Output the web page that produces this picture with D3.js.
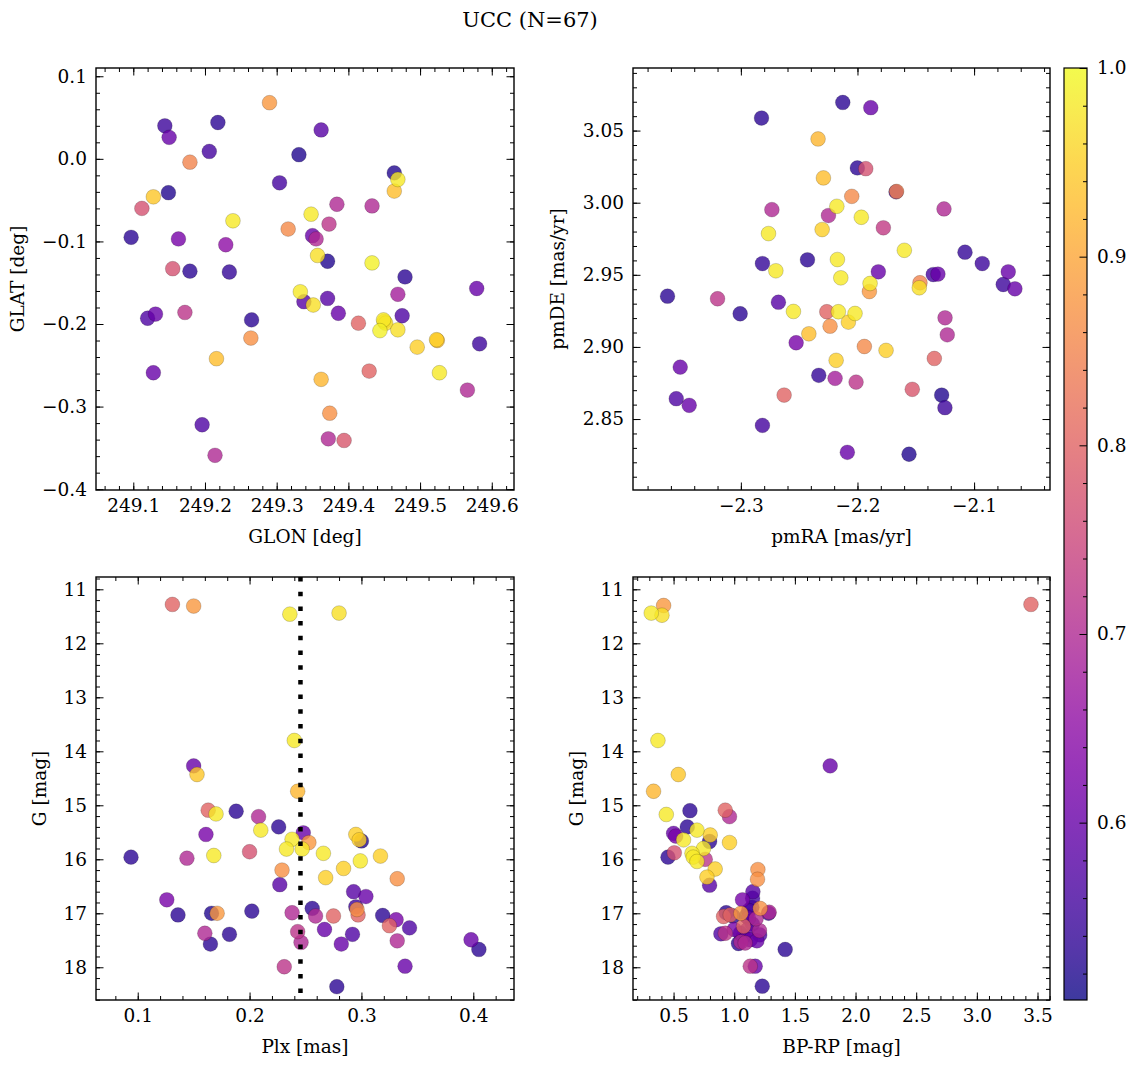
<!DOCTYPE html>
<html><head><meta charset="utf-8">
<script src="https://cdn.jsdelivr.net/npm/d3@7"></script>
<style>
html,body{margin:0;padding:0;background:#fff;}
text{font-family:"DejaVu Serif",serif;fill:#000;}
</style></head>
<body><svg id="c" width="1136" height="1067"></svg>
<script>
// ---------- data: [x, y, membership probability] ----------
const glonGlat = [
[249.290,0.068,0.88],[249.144,0.040,0.55],[249.150,0.026,0.60],[249.218,0.044,0.53],[249.206,0.009,0.56],
[249.179,-0.004,0.85],[249.331,0.005,0.52],[249.304,-0.029,0.56],[249.128,-0.046,0.94],[249.149,-0.041,0.52],
[249.112,-0.060,0.77],[249.239,-0.075,0.98],[249.316,-0.085,0.86],[249.097,-0.095,0.53],[249.163,-0.097,0.62],
[249.229,-0.104,0.65],[249.155,-0.133,0.77],[249.179,-0.136,0.53],[249.234,-0.137,0.54],[249.362,0.035,0.58],
[249.464,-0.017,0.52],[249.469,-0.025,0.98],[249.464,-0.039,0.93],[249.384,-0.055,0.70],[249.433,-0.057,0.70],
[249.348,-0.067,0.98],[249.373,-0.079,0.72],[249.350,-0.093,0.60],[249.355,-0.097,0.70],[249.357,-0.117,0.97],
[249.371,-0.124,0.52],[249.433,-0.126,0.99],[249.479,-0.143,0.53],[249.333,-0.161,0.98],[249.338,-0.173,0.58],
[249.351,-0.177,0.97],[249.120,-0.193,0.57],[249.131,-0.188,0.60],[249.172,-0.186,0.72],[249.265,-0.195,0.53],
[249.264,-0.217,0.87],[249.216,-0.242,0.93],[249.128,-0.259,0.60],[249.196,-0.322,0.57],[249.214,-0.359,0.70],
[249.371,-0.169,0.58],[249.386,-0.187,0.60],[249.414,-0.199,0.80],[249.469,-0.164,0.68],[249.475,-0.190,0.57],
[249.449,-0.195,0.98],[249.452,-0.199,0.97],[249.444,-0.208,0.99],[249.469,-0.207,0.97],[249.496,-0.228,0.95],
[249.523,-0.219,0.95],[249.524,-0.220,0.93],[249.579,-0.157,0.60],[249.583,-0.224,0.55],[249.362,-0.267,0.92],
[249.429,-0.257,0.80],[249.527,-0.259,0.98],[249.566,-0.280,0.70],[249.374,-0.308,0.87],[249.372,-0.339,0.70],
[249.394,-0.341,0.78],[249.450,-0.197,0.96]
];
const pmraPmde = [
[-2.2126,3.0695,0.53],[-2.2823,3.0587,0.53],[-2.2338,3.0442,0.92],[-2.2292,3.0172,0.93],[-2.2734,2.9952,0.70],
[-2.2249,2.9911,0.70],[-2.2177,2.9975,0.98],[-2.2763,2.9786,0.98],[-2.2303,2.9814,0.95],[-2.2815,2.9578,0.54],
[-2.2429,2.9604,0.53],[-2.2700,2.9528,0.98],[-2.2172,2.9606,0.98],[-2.1886,3.0659,0.60],[-2.2001,3.0241,0.53],
[-2.1929,3.0236,0.77],[-2.1669,3.0075,0.55],[-2.1665,3.0078,0.85],[-2.2049,3.0044,0.86],[-2.1967,2.9899,0.98],
[-2.1258,2.9957,0.70],[-2.1778,2.9826,0.73],[-2.1598,2.9670,0.98],[-2.1078,2.9657,0.54],[-2.0930,2.9578,0.55],
[-2.0707,2.9521,0.60],[-2.1821,2.9521,0.60],[-2.1350,2.9502,0.56],[-2.1310,2.9505,0.60],[-2.3629,2.9352,0.53],
[-2.3200,2.9334,0.72],[-2.3006,2.9230,0.53],[-2.2678,2.9310,0.58],[-2.2549,2.9246,0.98],[-2.2263,2.9244,0.80],
[-2.2164,2.9244,0.98],[-2.2235,2.9144,0.87],[-2.2417,2.9091,0.93],[-2.2526,2.9029,0.62],[-2.2183,2.8907,0.95],
[-2.2332,2.8803,0.54],[-2.2192,2.8782,0.68],[-2.3520,2.8860,0.60],[-2.3554,2.8641,0.57],[-2.3443,2.8595,0.60],
[-2.2629,2.8666,0.80],[-2.2815,2.8456,0.56],[-2.2143,2.9479,0.98],[-2.1892,2.9440,0.98],[-2.1898,2.9384,0.88],
[-2.1464,2.9445,0.85],[-2.1470,2.9410,0.97],[-2.0750,2.9433,0.55],[-2.0650,2.9403,0.60],[-2.2021,2.9232,0.98],
[-2.2078,2.9172,0.95],[-2.1249,2.9202,0.70],[-2.1230,2.9084,0.70],[-2.1941,2.9003,0.86],[-2.1755,2.8976,0.95],
[-2.1341,2.8920,0.80],[-2.2012,2.8756,0.72],[-2.1530,2.8706,0.78],[-2.1278,2.8666,0.52],[-2.1250,2.8579,0.55],
[-2.2087,2.8269,0.60],[-2.1558,2.8256,0.52]
];
const plxG = [
[0.131,11.28,0.80],[0.150,11.31,0.88],[0.236,11.46,0.98],[0.280,11.44,0.97],[0.240,13.80,0.98],
[0.150,14.27,0.60],[0.153,14.43,0.94],[0.243,14.74,0.92],[0.163,15.09,0.80],[0.170,15.16,0.98],
[0.188,15.11,0.53],[0.208,15.21,0.70],[0.226,15.40,0.53],[0.210,15.46,0.98],[0.161,15.54,0.62],
[0.238,15.63,0.98],[0.248,15.51,0.60],[0.253,15.69,0.88],[0.233,15.81,0.98],[0.247,15.81,0.98],
[0.295,15.54,0.95],[0.300,15.66,0.52],[0.298,15.64,0.95],[0.266,15.89,0.98],[0.317,15.94,0.95],
[0.094,15.96,0.53],[0.144,15.98,0.70],[0.168,15.93,0.98],[0.200,15.86,0.77],[0.299,16.03,0.98],
[0.284,16.17,0.95],[0.229,16.20,0.87],[0.268,16.34,0.95],[0.332,16.36,0.87],[0.227,16.47,0.58],
[0.293,16.60,0.58],[0.304,16.69,0.60],[0.126,16.75,0.62],[0.295,16.88,0.55],[0.296,16.93,0.87],
[0.297,17.03,0.80],[0.256,16.91,0.53],[0.136,17.03,0.53],[0.166,17.00,0.52],[0.171,17.00,0.88],
[0.202,16.96,0.53],[0.238,16.99,0.70],[0.259,17.05,0.70],[0.275,17.05,0.80],[0.319,17.04,0.53],
[0.331,17.12,0.62],[0.325,17.23,0.80],[0.343,17.27,0.57],[0.267,17.30,0.60],[0.243,17.34,0.72],
[0.160,17.37,0.70],[0.182,17.39,0.53],[0.292,17.39,0.57],[0.165,17.57,0.53],[0.246,17.54,0.70],
[0.282,17.57,0.60],[0.332,17.51,0.70],[0.398,17.49,0.60],[0.405,17.67,0.53],[0.231,17.99,0.72],
[0.339,17.98,0.60],[0.278,18.36,0.53]
];
const bprpG = [
[0.316,11.44,0.98],[0.418,11.30,0.88],[0.404,11.48,0.97],[0.371,13.80,0.98],[0.539,14.43,0.94],
[0.335,14.74,0.92],[1.791,14.27,0.60],[0.635,15.10,0.53],[0.926,15.09,0.80],[0.961,15.21,0.70],
[0.440,15.17,0.98],[0.613,15.40,0.53],[0.500,15.52,0.60],[0.518,15.57,0.62],[0.693,15.46,0.98],
[0.582,15.64,0.98],[0.802,15.55,0.95],[0.797,15.67,0.53],[0.747,15.80,0.98],[0.652,15.89,0.98],
[0.662,15.96,0.98],[0.693,16.04,0.98],[0.761,16.00,0.72],[0.961,15.69,0.95],[0.454,15.96,0.53],
[0.506,15.88,0.77],[0.843,16.18,0.95],[0.775,16.33,0.95],[0.797,16.48,0.58],[1.195,16.19,0.87],
[1.192,16.37,0.87],[1.154,16.60,0.58],[1.151,16.72,0.56],[1.068,16.75,0.62],[1.146,16.89,0.53],
[1.214,16.91,0.87],[1.283,17.00,0.55],[1.288,16.98,0.70],[0.934,16.99,0.53],[0.912,17.06,0.80],
[0.967,17.03,0.80],[1.055,17.00,0.88],[1.118,17.09,0.60],[1.077,17.24,0.80],[1.105,17.31,0.60],
[1.208,17.32,0.70],[0.890,17.38,0.57],[0.926,17.37,0.72],[1.035,17.56,0.53],[1.055,17.53,0.70],
[1.132,17.49,0.60],[1.187,17.51,0.60],[1.077,17.43,0.58],[1.420,17.67,0.53],[1.132,17.98,0.72],
[1.173,17.98,0.60],[1.231,18.35,0.53],[3.446,11.28,0.80],[1.100,17.05,0.53],[1.150,17.20,0.55],
[1.050,17.37,0.53],[1.180,17.10,0.70],[1.000,17.30,0.62],[1.120,16.95,0.57],[0.990,17.05,0.53],
[1.210,17.40,0.57],[1.090,17.55,0.70]
];
const plxLine = 0.2455;
const probRange = [0.506, 1.0];
// tick labels
const glonTicks = [249.1,249.2,249.3,249.4,249.5,249.6];
const glatTicks = [-0.4,-0.3,-0.2,-0.1,0.0,0.1];
const pmraTicks = [-2.3,-2.2,-2.1];
const pmdeTicks = [2.85,2.90,2.95,3.00,3.05];
const plxTicks = [0.1,0.2,0.3,0.4];
const gTicks = [11,12,13,14,15,16,17,18];
const bprpTicks = [0.5,1.0,1.5,2.0,2.5,3.0,3.5];
const cbTicks = [0.6,0.7,0.8,0.9,1.0];
const title = "UCC (N=67)";

// ---------- drawing ----------
const svg = d3.select("#c");
const color = d3.scaleSequential(d3.interpolatePlasma).domain(probRange);
const fmt = d => d3.format(".1f")(d).replace("-", "\u2212");
const fmt2 = d => d3.format(".2f")(d).replace("-", "\u2212");
const fmt0 = d => d3.format("d")(d);
function range(a, b, s){ const o=[]; for(let v=a; v<=b+1e-9; v+=s) o.push(+v.toFixed(6)); return o; }

const FS = 18.5;
function panel(cfg){
  const {L,R,T,B} = cfg;
  const x = d3.scaleLinear().domain(cfg.xd).range([L,R]);
  const y = d3.scaleLinear().domain(cfg.yd).range([B,T]);
  const g = svg.append("g");
  const pts = cfg.data.slice().sort((a,b)=>a[2]-b[2]);
  const clipId = "clip"+cfg.id;
  svg.append("clipPath").attr("id",clipId).append("rect").attr("x",L).attr("y",T).attr("width",R-L).attr("height",B-T);
  const pg = g.append("g").attr("clip-path",`url(#${clipId})`);
  pg.selectAll("circle").data(pts).join("circle")
    .attr("cx",d=>x(d[0])).attr("cy",d=>y(d[1])).attr("r",7.4)
    .attr("fill",d=>color(d[2])).attr("fill-opacity",0.8)
    .attr("stroke","#000").attr("stroke-opacity",0.35).attr("stroke-width",0.5);
  if (cfg.vline !== undefined){
    pg.append("line").attr("x1",x(cfg.vline)).attr("x2",x(cfg.vline)).attr("y1",T).attr("y2",B)
      .attr("stroke","#000").attr("stroke-width",4.5).attr("stroke-dasharray","4.5,10.2");
  }
  const minX = range(cfg.xmin[0], cfg.xmin[1], cfg.xmin[2]).filter(v=>v>=Math.min(...cfg.xd)&&v<=Math.max(...cfg.xd));
  const minY = range(cfg.ymin[0], cfg.ymin[1], cfg.ymin[2]).filter(v=>v>=Math.min(...cfg.yd)&&v<=Math.max(...cfg.yd));
  const MJ = 7.5, MN = 4;
  const ax = (gen, tr, vals, size, lab) => {
    const a = g.append("g").attr("transform",tr).call(gen.tickValues(vals).tickSize(-size).tickPadding(9).tickFormat(lab||(()=>"")));
    a.select(".domain").remove();
    a.selectAll("line").attr("stroke","#000").attr("stroke-width",1);
    a.selectAll("text").style("font-family","DejaVu Serif").style("font-size",FS+"px").attr("fill","#000");
    return a;
  };
  ax(d3.axisBottom(x), `translate(0,${B})`, cfg.xt, MJ, cfg.xf);
  ax(d3.axisBottom(x), `translate(0,${B})`, minX, MN);
  ax(d3.axisTop(x), `translate(0,${T})`, cfg.xt, MJ);
  ax(d3.axisTop(x), `translate(0,${T})`, minX, MN);
  ax(d3.axisLeft(y), `translate(${L},0)`, cfg.yt, MJ, cfg.yf);
  ax(d3.axisLeft(y), `translate(${L},0)`, minY, MN);
  ax(d3.axisRight(y), `translate(${R},0)`, cfg.yt, MJ);
  ax(d3.axisRight(y), `translate(${R},0)`, minY, MN);
  g.append("rect").attr("x",L).attr("y",T).attr("width",R-L).attr("height",B-T)
    .attr("fill","none").attr("stroke","#000").attr("stroke-width",1.4);
  g.append("text").attr("x",(L+R)/2).attr("y",B+53).attr("text-anchor","middle")
    .style("font-size",FS+"px").text(cfg.xl);
  g.append("text").attr("transform",`translate(${cfg.ylx},${(T+B)/2}) rotate(-90)`).attr("text-anchor","middle")
    .attr("dy","0.35em").style("font-size",FS+"px").text(cfg.yl);
}

panel({id:1,L:96,R:514,T:68,B:490,data:glonGlat,xd:[249.048,249.631],yd:[-0.401,0.110],
  xt:glonTicks,yt:glatTicks,xmin:[249.04,249.64,0.02],ymin:[-0.4,0.1,0.02],xf:fmt,yf:fmt,
  xl:"GLON [deg]",yl:"GLAT [deg]",ylx:18});
panel({id:2,L:633,R:1050,T:68,B:490,data:pmraPmde,xd:[-2.3925,-2.0349],yd:[2.8008,3.0934],
  xt:pmraTicks,yt:pmdeTicks,xmin:[-2.40,-2.02,0.02],ymin:[2.80,3.10,0.01],xf:fmt,yf:fmt2,
  xl:"pmRA [mas/yr]",yl:"pmDE [mas/yr]",ylx:558});
panel({id:3,L:96,R:514,T:577,B:1000,data:plxG,xd:[0.0627,0.4364],yd:[18.606,10.772],
  xt:plxTicks,yt:gTicks,xmin:[0.06,0.44,0.02],ymin:[10.8,18.6,0.2],xf:fmt,yf:fmt0,
  xl:"Plx [mas]",yl:"G [mag]",ylx:40,vline:plxLine});
panel({id:4,L:633,R:1050,T:577,B:1000,data:bprpG,xd:[0.1656,3.603],yd:[18.606,10.772],
  xt:bprpTicks,yt:gTicks,xmin:[0.2,3.6,0.1],ymin:[10.8,18.6,0.2],xf:fmt,yf:fmt0,
  xl:"BP-RP [mag]",yl:"G [mag]",ylx:577});

// colorbar
const cbL=1064, cbR=1087, cbT=68, cbB=1000;
const cy = d3.scaleLinear().domain(probRange).range([cbB,cbT]);
const defs = svg.append("defs");
const grad = defs.append("linearGradient").attr("id","cbg").attr("x1",0).attr("x2",0).attr("y1",1).attr("y2",0);
d3.range(0,1.0001,0.05).forEach(t=>{
  grad.append("stop").attr("offset",t).attr("stop-color",d3.interpolatePlasma(t));
});
svg.append("rect").attr("x",cbL).attr("y",cbT).attr("width",cbR-cbL).attr("height",cbB-cbT)
  .attr("fill","url(#cbg)").attr("fill-opacity",0.8);
const cbMinor = range(0.52,1.0,0.02).filter(v=>cbTicks.every(t=>Math.abs(t-v)>1e-6));
const cbAx = (vals,size,lab)=>{
  const a = svg.append("g").attr("transform",`translate(${cbR},0)`)
    .call(d3.axisRight(cy).tickValues(vals).tickSize(-size).tickPadding(10).tickFormat(lab||(()=>"")));
  a.select(".domain").remove();
  a.selectAll("line").attr("stroke","#000").attr("stroke-width",1);
  a.selectAll("text").style("font-family","DejaVu Serif").style("font-size",FS+"px");
};
cbAx(cbTicks,7.5,fmt);
cbAx(cbMinor,4);
svg.append("rect").attr("x",cbL).attr("y",cbT).attr("width",cbR-cbL).attr("height",cbB-cbT)
  .attr("fill","none").attr("stroke","#000").attr("stroke-width",1.2);

svg.append("text").attr("x",530).attr("y",27).attr("text-anchor","middle").style("font-size","21px").text(title);
</script></body></html>
